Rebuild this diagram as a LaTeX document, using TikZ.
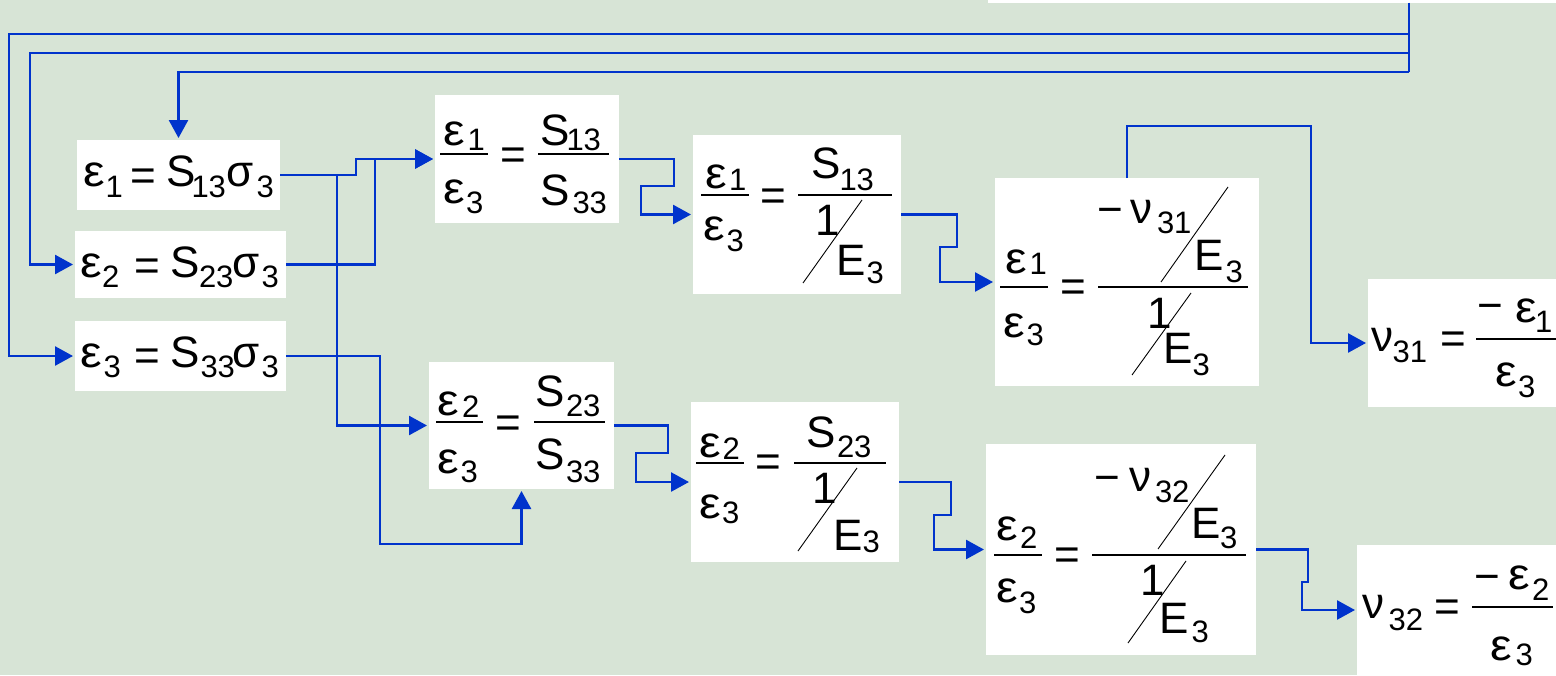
\documentclass[tikz,border=0pt]{standalone}
\usepackage{fontspec}
\setmainfont{Liberation Sans}
\usetikzlibrary{arrows.meta}
\definecolor{paper}{RGB}{215,228,214}
\definecolor{wireblue}{RGB}{0,51,204}
% slightly wider epsilon
\newcommand{\epsw}{\scalebox{1.1}[1]{ε}}
\tikzset{
  box/.style={fill=white, draw=none, inner sep=0pt, outer sep=0pt, anchor=north west},
  t/.style={inner sep=0pt, outer sep=0pt, anchor=base west, font=\fontsize{44}{50}\selectfont},
  st/.style={inner sep=0pt, outer sep=0pt, anchor=base west, font=\fontsize{31}{36}\selectfont},
  bar/.style={line width=1.8pt},
  slash/.style={line width=0.9pt},
  wire/.style={draw=wireblue, line width=2.6pt},
  arr/.style={wire, shorten >=2pt, -{Triangle[length=18pt,width=19pt]}, wireblue},
}
\begin{document}
\begin{tikzpicture}[x=1pt,y=-1pt]
\useasboundingbox (0,0) rectangle (1556,675);
\fill[paper] (0,0) rectangle (1556,675);

% white boxes
\node[box, minimum width=568pt, minimum height=2.5pt] (src) at (988,0) {};
\node[box, minimum width=203pt, minimum height=70pt]  (s1)  at (77,140) {};
\node[box, minimum width=211pt, minimum height=67pt]  (s2)  at (75,231) {};
\node[box, minimum width=211pt, minimum height=70pt]  (s3)  at (75,321) {};
\node[box, minimum width=184pt, minimum height=128pt] (q13) at (435,95) {};
\node[box, minimum width=185pt, minimum height=127pt] (q23) at (429,362) {};
\node[box, minimum width=208pt, minimum height=159pt] (c13) at (693,135) {};
\node[box, minimum width=208pt, minimum height=160pt] (c23) at (691,402) {};
\node[box, minimum width=264pt, minimum height=208pt] (p31) at (995,178) {};
\node[box, minimum width=270pt, minimum height=211pt] (p32) at (986,444) {};
\node[box, minimum width=188pt, minimum height=128pt] (n31) at (1368,279) {};
\node[box, minimum width=199pt, minimum height=130pt] (n32) at (1357,545) {};

% eps_1 = S_13 sigma_3
\node[t]  (s1a) at (83,186) {\epsw};
\node[st] (s1b) at (105.6,197) {1};
\node[t]  (s1c) at (130.7,190) {=};
\node[t]  (s1d) at (166,186) {S};
\node[st] (s1e) at (191.5,197) {13};
\node[t]  (s1f) at (226.5,186) {σ};
\node[st] (s1g) at (256.5,197) {3};

% eps_2 = S_23 sigma_3
\node[t]  (s2a) at (80,277) {\epsw};
\node[st] (s2b) at (102,287) {2};
\node[t]  (s2c) at (134.7,280) {=};
\node[t]  (s2d) at (170,277) {S};
\node[st] (s2e) at (199,287) {23};
\node[t]  (s2f) at (232.5,277) {σ};
\node[st] (s2g) at (261.5,287) {3};

% eps_3 = S_33 sigma_3
\node[t]  (s3a) at (80,367) {\epsw};
\node[st] (s3b) at (103.7,377) {3};
\node[t]  (s3c) at (134.7,370) {=};
\node[t]  (s3d) at (170,367) {S};
\node[st] (s3e) at (200.5,377) {33};
\node[t]  (s3f) at (232.5,367) {σ};
\node[st] (s3g) at (261.5,377) {3};

% eps_1/eps_3 = S_13/S_33
\node[t]  (q13a) at (443,145) {\epsw};
\node[st] (q13b) at (467.5,150) {1};
\draw[bar] (440,154) -- (488,154);
\node[t]  (q13c) at (443,203) {\epsw};
\node[st] (q13d) at (466,213) {3};
\node[t]  (q13e) at (500.7,169) {=};
\node[t]  (q13f) at (540,145) {S};
\node[st] (q13g) at (566.5,150) {13};
\draw[bar] (538,154) -- (609,154);
\node[t]  (q13h) at (540,205) {S};
\node[st] (q13i) at (572.5,213) {33};

% eps_2/eps_3 = S_23/S_33
\node[t]  (q23a) at (437,415) {\epsw};
\node[st] (q23b) at (462,417) {2};
\draw[bar] (436,422) -- (483,422);
\node[t]  (q23c) at (437,473) {\epsw};
\node[st] (q23d) at (460.7,482) {3};
\node[t]  (q23e) at (495.7,437) {=};
\node[t]  (q23f) at (535,406) {S};
\node[st] (q23g) at (566,416) {23};
\draw[bar] (534,422) -- (605,422);
\node[t]  (q23h) at (535,469) {S};
\node[st] (q23i) at (566,482) {33};

% eps_1/eps_3 = S_13/(1/E_3)
\node[t]  (c13a) at (705,188) {\epsw};
\node[st] (c13b) at (729,190) {1};
\draw[bar] (701,195) -- (749,195);
\node[t]  (c13c) at (703,240) {\epsw};
\node[st] (c13d) at (726.7,251) {3};
\node[t]  (c13e) at (760.7,210) {=};
\node[t]  (c13f) at (811,178) {S};
\node[st] (c13g) at (839.5,190) {13};
\draw[bar] (798,195) -- (892,195);
\node[t]  (c13h) at (815.2,235) {1};
\draw[slash] (803,283) -- (862,200);
\node[t]  (c13i) at (836.8,275) {E};
\node[st] (c13j) at (866.7,283) {3};

% eps_2/eps_3 = S_23/(1/E_3)
\node[t]  (c23a) at (699,457) {\epsw};
\node[st] (c23b) at (722.5,459) {2};
\draw[bar] (696,463) -- (744,463);
\node[t]  (c23c) at (699,518) {\epsw};
\node[st] (c23d) at (722,523) {3};
\node[t]  (c23e) at (755.7,476) {=};
\node[t]  (c23f) at (806,447) {S};
\node[st] (c23g) at (837,457) {23};
\draw[bar] (794,463) -- (886,463);
\node[t]  (c23h) at (812.2,503) {1};
\draw[slash] (798,551) -- (857,468);
\node[t]  (c23i) at (833.5,550) {E};
\node[st] (c23j) at (862.5,552) {3};

% eps_1/eps_3 = (-nu_31/E_3)/(1/E_3)
\node[t]  (p31a) at (1005,273) {\epsw};
\node[st] (p31b) at (1029.5,274) {1};
\draw[bar] (1000,287) -- (1048,287);
\node[t]  (p31c) at (1003,337) {\epsw};
\node[st] (p31d) at (1026.7,345) {3};
\node[t]  (p31e) at (1060.7,301) {=};
\node[t]  (p31f) at (1097.5,224) {−};
\node[t]  (p31g) at (1130,223) {ν};
\node[st] (p31h) at (1157,233) {31};
\draw[slash] (1161,282) -- (1228,187);
\node[t]  (p31i) at (1194.8,270) {E};
\node[st] (p31j) at (1225.7,282) {3};
\draw[bar] (1098,287) -- (1248,287);
\node[t]  (p31k) at (1147.2,328) {1};
\draw[slash] (1132,375) -- (1191,293);
\node[t]  (p31l) at (1163.8,363) {E};
\node[st] (p31m) at (1192.5,375) {3};

% eps_2/eps_3 = (-nu_32/E_3)/(1/E_3)
\node[t]  (p32a) at (996,540) {\epsw};
\node[st] (p32b) at (1020,548) {2};
\draw[bar] (994,555) -- (1042,555);
\node[t]  (p32c) at (996,602) {\epsw};
\node[st] (p32d) at (1019,613) {3};
\node[t]  (p32e) at (1054.7,569) {=};
\node[t]  (p32f) at (1094.7,492) {−};
\node[t]  (p32g) at (1129.5,491) {ν};
\node[st] (p32h) at (1155,502) {32};
\draw[slash] (1158,549) -- (1225,455);
\node[t]  (p32i) at (1191.8,538) {E};
\node[st] (p32j) at (1220,548) {3};
\draw[bar] (1092,555) -- (1246,555);
\node[t]  (p32k) at (1140.2,595) {1};
\draw[slash] (1128,643) -- (1186,561);
\node[t]  (p32l) at (1159.8,633) {E};
\node[st] (p32m) at (1191.7,642) {3};

% nu_31 = -eps_1/eps_3
\node[t]  (n31a) at (1371.5,351) {ν};
\node[st] (n31b) at (1392.5,362) {31};
\node[t]  (n31c) at (1440.7,353) {=};
\node[t]  (n31d) at (1477.7,320) {−};
\node[t]  (n31e) at (1515,322) {\epsw};
\node[st] (n31f) at (1535,332) {1};
\draw[bar] (1476,339) -- (1556,339);
\node[t]  (n31g) at (1495,386) {\epsw};
\node[st] (n31h) at (1518,397) {3};

% nu_32 = -eps_2/eps_3
\node[t]  (n32a) at (1362.5,618) {ν};
\node[st] (n32b) at (1388.5,630) {32};
\node[t]  (n32c) at (1434.7,621) {=};
\node[t]  (n32d) at (1474.7,591) {−};
\node[t]  (n32e) at (1508,589) {\epsw};
\node[st] (n32f) at (1532,600) {2};
\draw[bar] (1472,607) -- (1553,607);
\node[t]  (n32g) at (1490,660) {\epsw};
\node[st] (n32h) at (1515.7,665) {3};

% feed trunk and its three branches
\coordinate (j1) at (1409,34);
\coordinate (j2) at (1409,53);
\coordinate (j3) at (1409,72);
\draw[wire] (src.south -| j1) -- (j3);
\draw[arr] (j1) -- (9,34) |- (s3.west);
\draw[arr] (j2) -- (30,53) |- (s2.west);
\draw[arr] (j3) -| (s1.north);

% strain equations to ratios
\coordinate (b1) at (337,175);
\draw[arr] (s1.east) -| (356,159) -- (q13.west);
\draw[arr] (s2.east) -| (375,159) -- (q13.west);
\draw[arr] (b1) |- (q23.west);
\draw[arr] (s3.east) -| (380,544) -| (q23.south);

% ratio chain
\draw[arr] (q13.east) -| (674,186) -| (641,214.5) -- (c13.west);
\draw[arr] (q23.east) -| (668,453) -| (636,482) -- (c23.west);
\draw[arr] (c13.east) -| (957,247) -| (940,282) -- (p31.west);
\draw[arr] (c23.east) -| (951,515) -| (934,549.5) -- (p32.west);
\draw[arr] (p31.north) |- (1311,126) |- (n31.west);
\draw[arr] (p32.east) -| (1308,582) -| (1302,610) -- (n32.west);
\end{tikzpicture}
\end{document}
